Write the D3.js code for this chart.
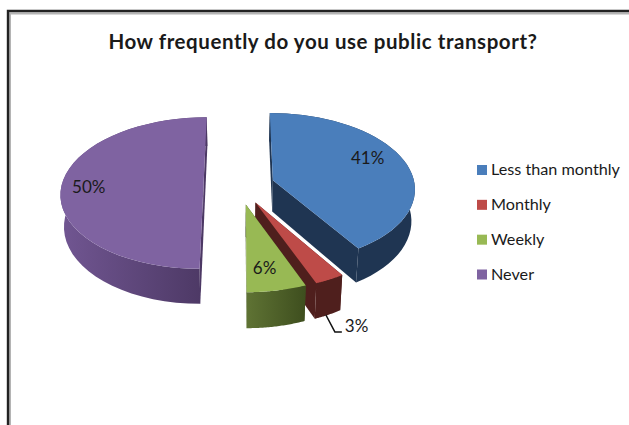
<!DOCTYPE html>
<html>
<head>
<meta charset="utf-8">
<script src="https://cdn.jsdelivr.net/npm/d3@7"></script>
<style>
html,body{margin:0;padding:0;background:#fff;}
svg{display:block;}
text{font-family:Lato,"Open Sans",sans-serif;fill:#1a1a1a;}
</style>
</head>
<body>
<svg id="chart" width="629" height="425"></svg>
<script>
// Survey answers, in the order they run clockwise from twelve o'clock
const categories = ["Less than monthly", "Monthly", "Weekly", "Never"];
const shares = [41, 3, 6, 50];
const topColors = ["#4a7ebb", "#be4b48", "#98b954", "#7f63a1"];
const wallFrom = ["#1f3552", "#4f1f1d", "#5f7334", "#715692"];
const wallTo = ["#1f3552", "#4f1f1d", "#3e4e1e", "#4c3864"];

// Perspective pie: world units are pie radii, z runs away from the viewer
const view = {cx: 239, cy: 185.5, rx: 142, ry: 75, k: 0.1, explode: 0.25, height: 31.5, floorShrink: 0.98};

function project(x, z, floor) {
  const p = 1 / (1 + view.k * z);
  const sx = view.rx * x * p;
  const sy = -view.ry * z * p;
  return floor
    ? [view.cx + sx * view.floorShrink, view.cy + sy + view.height * p]
    : [view.cx + sx, view.cy + sy];
}

const svg = d3.select("#chart");
const defs = svg.append("defs");

// Chart frame: runs off the right and bottom of the page
const frameLine = d3.line();
svg.append("path").attr("d", frameLine([[10, 425], [10, 13.5], [629, 13.5]]))
  .attr("fill", "none").attr("stroke", "#b4b4b4").attr("stroke-width", 2);
svg.append("path").attr("d", frameLine([[8, 425], [8, 11], [629, 11]]))
  .attr("fill", "none").attr("stroke", "#222").attr("stroke-width", 2.4);

svg.append("text").attr("x", 323).attr("y", 49).attr("text-anchor", "middle")
  .attr("font-size", 20.5).attr("font-weight", 700).attr("letter-spacing", 0.57).attr("fill", "#000")
  .text("How frequently do you use public transport?");

const arcs = d3.pie().sort(null).value(d => d)(shares);
const line = d3.line();

function sliceGeometry(a) {
  const mid = (a.startAngle + a.endAngle) / 2;
  const ox = view.explode * Math.sin(mid);
  const oz = view.explode * Math.cos(mid);
  const steps = d3.range(0, 41).map(i => a.startAngle + (a.endAngle - a.startAngle) * i / 40);
  const rim = steps.map(t => [ox + Math.sin(t), oz + Math.cos(t)]);
  return {ox, oz, rim, mid};
}

// Later slices sit in front: purple at the back, green nearest the viewer
const paintOrder = [3, 0, 1, 2];
paintOrder.forEach(i => {
  const a = arcs[i];
  const g = sliceGeometry(a);
  const top = g.rim.map(d => project(d[0], d[1], false));
  const floor = g.rim.map(d => project(d[0], d[1], true));
  const apexTop = project(g.ox, g.oz, false);
  const apexFloor = project(g.ox, g.oz, true);

  const gradId = "wall-" + i;
  const xs = d3.extent(top, d => d[0]);
  const grad = defs.append("linearGradient").attr("id", gradId)
    .attr("gradientUnits", "userSpaceOnUse")
    .attr("x1", xs[0]).attr("x2", xs[1]).attr("y1", 0).attr("y2", 0);
  grad.append("stop").attr("offset", 0).attr("stop-color", wallFrom[i]);
  grad.append("stop").attr("offset", 1).attr("stop-color", wallTo[i]);

  const group = svg.append("g");
  // the two cut faces running in to the apex
  [[top[0], floor[0]], [top[top.length - 1], floor[floor.length - 1]]].forEach(e => {
    group.append("path")
      .attr("d", line([apexTop, e[0], e[1], apexFloor]) + "Z")
      .attr("fill", wallTo[i]);
  });
  // the curved rim
  group.append("path")
    .attr("d", line(top.concat(floor.slice().reverse())) + "Z")
    .attr("fill", `url(#${gradId})`);
  // the top face
  group.append("path")
    .attr("d", line([apexTop].concat(top)) + "Z")
    .attr("fill", topColors[i]);
});

// Value labels sit part way along each slice's middle radius
const labelRadius = [0.68, 0, 0.72, 0.78];
const labelNudge = [[5, -8], [0, 0], [-3, 4], [-4, 2]];
const fmt = v => v + "%";
arcs.forEach((a, i) => {
  if (i === 1) return;
  const g = sliceGeometry(a);
  const f = labelRadius[i];
  const q = project(g.ox + f * Math.sin(g.mid), g.oz + f * Math.cos(g.mid), false);
  svg.append("text").attr("x", q[0] + labelNudge[i][0]).attr("y", q[1] + labelNudge[i][1] + 5.5)
    .attr("text-anchor", "middle").attr("font-size", 17).text(fmt(shares[i]));
});

// The narrow slice gets its label outside, on a leader line from the rim
const redSlice = sliceGeometry(arcs[1]);
const rimPoint = project(redSlice.ox + Math.sin(redSlice.mid), redSlice.oz + Math.cos(redSlice.mid), true);
const leaderStart = [rimPoint[0] - 2, rimPoint[1]];
const elbow = [leaderStart[0] + 9, leaderStart[1] + 17];
svg.append("path")
  .attr("d", line([leaderStart, elbow, [elbow[0] + 7, elbow[1]]]))
  .attr("fill", "none").attr("stroke", "#111").attr("stroke-width", 1.4);
svg.append("text").attr("x", elbow[0] + 10).attr("y", elbow[1])
  .attr("font-size", 17).text(fmt(shares[1]));

// Legend
const legendY = d3.scalePoint().domain(categories).range([170, 274.5]);
const legend = svg.append("g").selectAll("g").data(categories).join("g")
  .attr("transform", d => `translate(477,${legendY(d)})`);
legend.append("rect").attr("x", 0).attr("y", -5).attr("width", 10).attr("height", 10)
  .attr("fill", (d, i) => topColors[i]);
legend.append("text").attr("x", 14).attr("y", 5).attr("font-size", 16.2).text(d => d);
</script>
</body>
</html>
